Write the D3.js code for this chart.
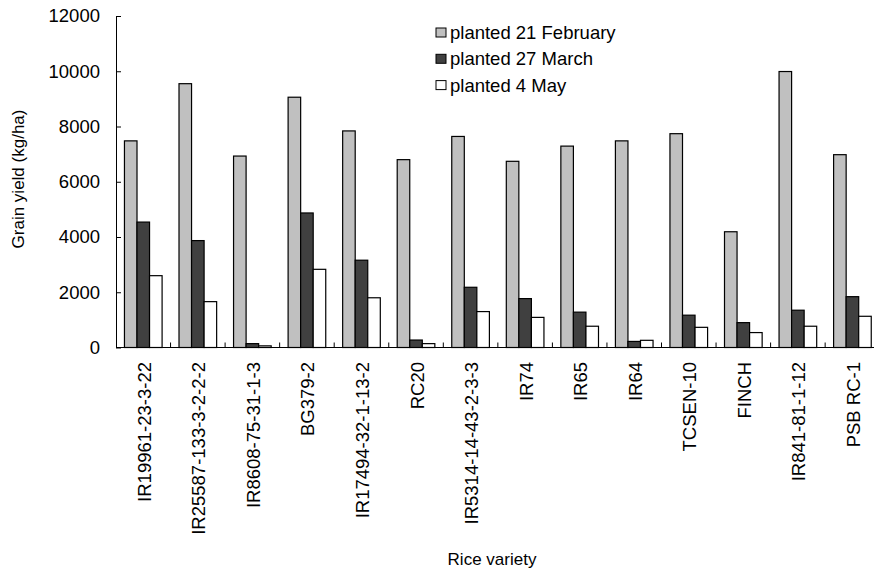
<!DOCTYPE html>
<html><head><meta charset="utf-8">
<script src="https://cdn.jsdelivr.net/npm/d3@7/dist/d3.min.js"></script>
<style>body{margin:0;background:#fff}text{font-family:"Liberation Sans",Arial,sans-serif;fill:#000}</style>
</head><body>
<svg id="c" width="874" height="575"></svg>
<script>
const categories = ["IR19961-23-3-22","IR25587-133-3-2-2-2","IR8608-75-31-1-3","BG379-2","IR17494-32-1-13-2","RC20","IR5314-14-43-2-3-3","IR74","IR65","IR64","TCSEN-10","FINCH","IR841-81-1-12","PSB RC-1"];
const seriesNames = ["planted 21 February","planted 27 March","planted 4 May"];
const feb = [7480,9550,6930,9060,7840,6800,7640,6740,7290,7480,7740,4190,9990,6980];
const mar = [4540,3870,140,4870,3160,270,2180,1770,1280,220,1170,900,1350,1840];
const may = [2600,1660,60,2830,1800,140,1300,1090,770,260,730,540,770,1130];
const yTicks = [0,2000,4000,6000,8000,10000,12000];
const colors = ["#c0c0c0","#404040","#ffffff"];

const svg = d3.select("#c");
const mLeft = 116, step = 54.55, mTop = 16, mBottom = 347.5;
const x0 = d3.scaleBand().domain(categories).range([mLeft, mLeft + step*categories.length]).paddingInner(0.31).paddingOuter(0.155);
const x1 = d3.scaleBand().domain(seriesNames).range([0, x0.bandwidth()]);
const y = d3.scaleLinear().domain([0,12000]).range([mBottom, mTop]);
const series = [feb, mar, may];
const FS = "18.5px", FT = "17px";

// bars
categories.forEach((c,i)=>{
  series.forEach((s,j)=>{
    svg.append("rect")
      .attr("x", x0(c)+x1(seriesNames[j]))
      .attr("y", y(s[i]))
      .attr("width", x1.bandwidth())
      .attr("height", y(0)-y(s[i]))
      .attr("fill", colors[j]).attr("stroke","#000").attr("stroke-width",1.2);
  });
});

// y axis
const ya = svg.append("g").attr("transform",`translate(${mLeft},0)`)
  .call(d3.axisLeft(y).tickValues(yTicks).tickSizeInner(-5).tickSizeOuter(0).tickPadding(16).tickFormat(d3.format("d")));
ya.select(".domain").attr("stroke","#000");
ya.selectAll(".tick line").attr("stroke","#000");
ya.selectAll("text").style("font-size",FS).attr("font-family",null).attr("fill","#000");
ya.attr("font-family",null).attr("font-size",null);

// x axis
const xa = svg.append("g").attr("transform",`translate(0,${mBottom})`);
xa.append("line").attr("x1",mLeft).attr("x2",874).attr("stroke","#000");
const bounds = d3.range(1, categories.length+1).map(i=> x0.step()*i + mLeft);
xa.selectAll(".t").data(bounds).join("line").attr("x1",d=>d).attr("x2",d=>d).attr("y1",0).attr("y2",-5).attr("stroke","#000");
categories.forEach(c=>{
  svg.append("text").attr("transform",`translate(${x0(c)+x0.bandwidth()/2+1},362) rotate(-90)`)
    .attr("text-anchor","end").attr("dy","0.35em").style("font-size",FS).text(c);
});

// titles
svg.append("text").attr("transform",`translate(18,179) rotate(-90)`)
  .attr("text-anchor","middle").attr("dy","0.35em").style("font-size",FT).text("Grain yield (kg/ha)");
svg.append("text").attr("x",492).attr("y",565)
  .attr("text-anchor","middle").style("font-size",FT).text("Rice variety");

// legend
seriesNames.forEach((n,j)=>{
  const ly = 32.5 + j*26.3;
  svg.append("rect").attr("x",436).attr("y",ly-4.5).attr("width",10).attr("height",9)
    .attr("fill",colors[j]).attr("stroke","#000").attr("stroke-width",1);
  svg.append("text").attr("x",450).attr("y",ly)
    .attr("dy","0.35em").style("font-size",FS).text(n);
});
</script>
</body></html>
